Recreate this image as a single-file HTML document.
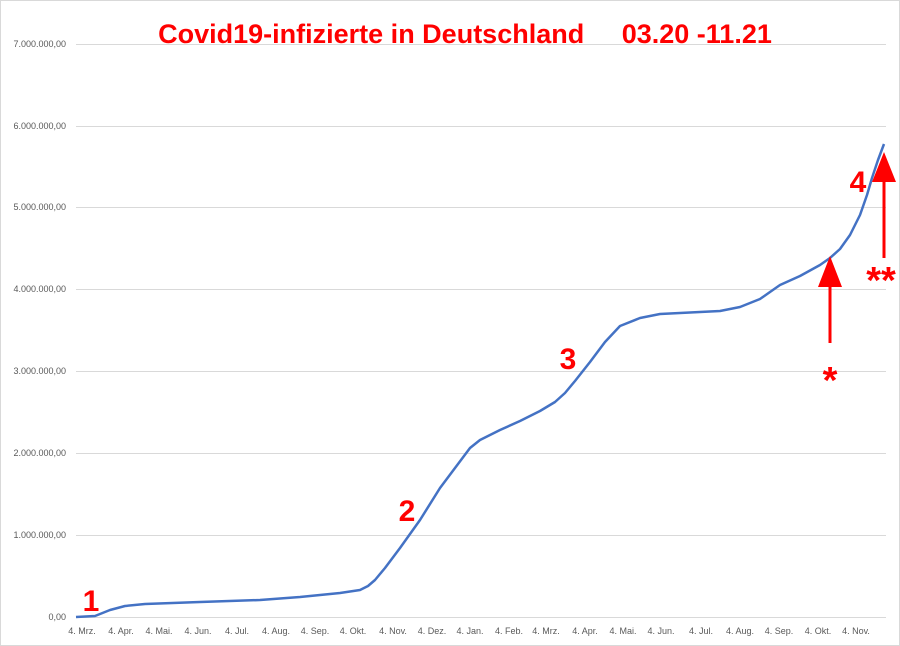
<!DOCTYPE html>
<html><head><meta charset="utf-8"><style>
body{margin:0;background:#fff}
svg{display:block;font-family:"Liberation Sans",sans-serif}
</style></head><body>
<svg width="900" height="646" viewBox="0 0 900 646">
<rect x="0.5" y="0.5" width="899" height="645" fill="#fff" stroke="#d9d9d9"/>
<g stroke="#d9d9d9" stroke-width="1">
<line x1="76" x2="886" y1="44.5" y2="44.5"/>
<line x1="76" x2="886" y1="126.5" y2="126.5"/>
<line x1="76" x2="886" y1="207.5" y2="207.5"/>
<line x1="76" x2="886" y1="289.5" y2="289.5"/>
<line x1="76" x2="886" y1="371.5" y2="371.5"/>
<line x1="76" x2="886" y1="453.5" y2="453.5"/>
<line x1="76" x2="886" y1="535.5" y2="535.5"/>
<line x1="76" x2="886" y1="617.5" y2="617.5"/>
</g>
<g font-size="9" fill="#595959" text-anchor="end">
<text x="66" y="47">7.000.000,00</text>
<text x="66" y="129">6.000.000,00</text>
<text x="66" y="210">5.000.000,00</text>
<text x="66" y="292">4.000.000,00</text>
<text x="66" y="374">3.000.000,00</text>
<text x="66" y="456">2.000.000,00</text>
<text x="66" y="538">1.000.000,00</text>
<text x="66" y="620">0,00</text>
</g>
<g font-size="9" fill="#595959" text-anchor="middle">
<text x="82" y="634">4. Mrz.</text><text x="121" y="634">4. Apr.</text><text x="159" y="634">4. Mai.</text>
<text x="198" y="634">4. Jun.</text><text x="237" y="634">4. Jul.</text><text x="276" y="634">4. Aug.</text>
<text x="315" y="634">4. Sep.</text><text x="353" y="634">4. Okt.</text><text x="393" y="634">4. Nov.</text>
<text x="432" y="634">4. Dez.</text><text x="470" y="634">4. Jan.</text><text x="509" y="634">4. Feb.</text>
<text x="546" y="634">4. Mrz.</text><text x="585" y="634">4. Apr.</text><text x="623" y="634">4. Mai.</text>
<text x="661" y="634">4. Jun.</text><text x="701" y="634">4. Jul.</text><text x="740" y="634">4. Aug.</text>
<text x="779" y="634">4. Sep.</text><text x="818" y="634">4. Okt.</text><text x="856" y="634">4. Nov.</text>
</g>
<polyline fill="none" stroke="#4472c4" stroke-width="2.5" stroke-linejoin="round" points="76,617 95,616 110,610 125,606 145,604 200,602 260,600 300,597 340,593 360,590 368,586 375,580 385,568 400,548 420,520 440,488 455,468 470,448 480,440 500,430 520,421 540,411 555,402 565,393 575,381 590,362 605,342 620,326 640,318 660,314 700,312 720,311 740,307 760,299 770,292 780,285 800,276 820,265 830,258 840,249 850,235 860,215 867,195 872,178 878,160 884,144"/>
<text x="465" y="43" font-size="27" font-weight="bold" fill="#ff0000" text-anchor="middle" style="white-space:pre">Covid19-infizierte in Deutschland     03.20 -11.21</text>
<g font-size="30" font-weight="bold" fill="#ff0000" text-anchor="middle">
<text x="91" y="611">1</text>
<text x="407" y="521">2</text>
<text x="568" y="369">3</text>
<text x="858" y="192">4</text>
</g>
<g fill="#ff0000" stroke="#ff0000">
<line x1="830" y1="343" x2="830" y2="275" stroke-width="3"/>
<polygon points="830,256 818,287 842,287" stroke="none"/>
<line x1="884" y1="258" x2="884" y2="170" stroke-width="3"/>
<polygon points="884,152 872,182 896,182" stroke="none"/>
</g>
<g font-size="38" font-weight="bold" fill="#ff0000" text-anchor="middle">
<text x="830" y="393">*</text>
<text x="881" y="293">**</text>
</g>
</svg>
</body></html>
